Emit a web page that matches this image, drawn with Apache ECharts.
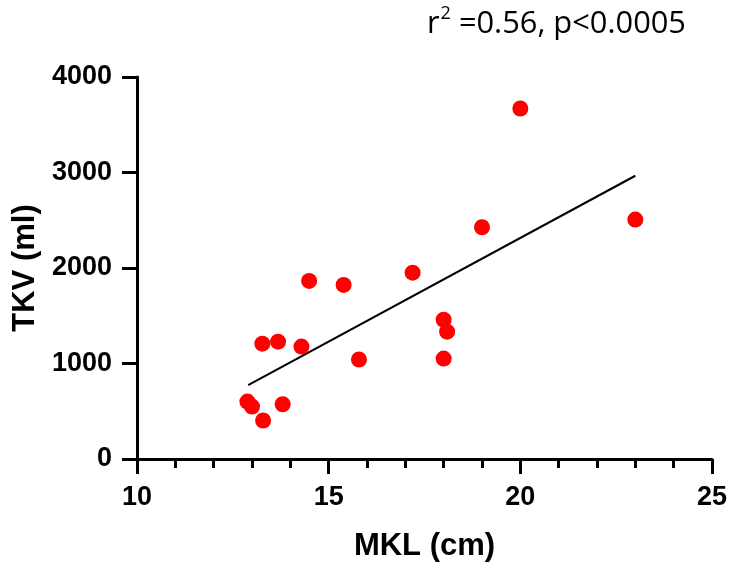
<!DOCTYPE html>
<html><head><meta charset="utf-8">
<script src="https://cdn.jsdelivr.net/npm/echarts@6/dist/echarts.min.js"></script>
<style>html,body{margin:0;padding:0;background:#fff}#c{width:731px;height:570px}</style>
</head><body><div id="c"></div>
<script>
const mklValues = [12.88, 13.00, 13.29, 13.27, 13.68, 13.80, 14.29, 14.49, 15.39, 15.79, 17.19, 18.00, 18.09, 18.00, 19.00, 20.00, 23.00];
const tkvValues = [601, 549, 403, 1208, 1229, 573, 1177, 1865, 1823, 1042, 1951, 1458, 1333, 1052, 2427, 3670, 2507];
const fitX = [12.9, 23.0];
const fitY = [774, 2966];
const xTicks = [10, 15, 20, 25];
const yTicks = [0, 1000, 2000, 3000, 4000];

const chart = echarts.init(document.getElementById('c'));
const pts = mklValues.map((v, i) => [v, tkvValues[i]]);
const fit = fitX.map((v, i) => [v, fitY[i]]);
const lbl = {fontFamily: 'Liberation Sans, Arial', fontWeight: 'bold', fontSize: 27, color: '#000', formatter: v => String(v)};
const nameStyle = {fontFamily: 'Liberation Sans, Arial', fontWeight: 'bold', fontSize: 31, color: '#000'};
chart.setOption({
  animation: false,
  grid: {left: 137, right: 19, top: 77, bottom: 111},
  graphic: [{
    type: 'text', left: 427, top: 5,
    style: {
      text: '{a|r}{s|2}{a| =0.56, p<0.0005}',
      rich: {
        a: {fontFamily: 'Open Sans', fontSize: 30.8, fill: '#000', lineHeight: 38},
        s: {fontFamily: 'Open Sans', fontSize: 18, fill: '#000', verticalAlign: 'top', lineHeight: 38, padding: [0,0,14,1]}
      }
    }
  }],
  xAxis: {
    type: 'value', min: xTicks[0], max: xTicks[xTicks.length - 1], interval: 5,
    name: 'MKL (cm)', nameLocation: 'middle', nameGap: 72, nameTextStyle: nameStyle,
    axisLine: {lineStyle: {color: '#000', width: 3}},
    axisTick: {length: 15, lineStyle: {color: '#000', width: 3}},
    minorTick: {show: true, splitNumber: 5, length: 9, lineStyle: {color: '#000', width: 3}},
    axisLabel: Object.assign({margin: 25}, lbl),
    splitLine: {show: false}
  },
  yAxis: {
    type: 'value', min: yTicks[0], max: yTicks[yTicks.length - 1], interval: 1000,
    name: 'TKV (ml)', nameLocation: 'middle', nameGap: 89, nameRotate: 90, nameTextStyle: nameStyle,
    axisLine: {show: true, lineStyle: {color: '#000', width: 3}},
    axisTick: {show: true, length: 15, lineStyle: {color: '#000', width: 3}},
    axisLabel: Object.assign({margin: 25, padding: [6, 0, 0, 0]}, lbl),
    splitLine: {show: false}
  },
  series: [
    {type: 'line', data: fit, symbol: 'none', lineStyle: {color: '#000', width: 2}, z: 1},
    {type: 'scatter', data: pts, symbol: 'circle', symbolSize: 16, itemStyle: {color: '#ff0000', opacity: 1}, z: 2}
  ]
});
</script></body></html>
